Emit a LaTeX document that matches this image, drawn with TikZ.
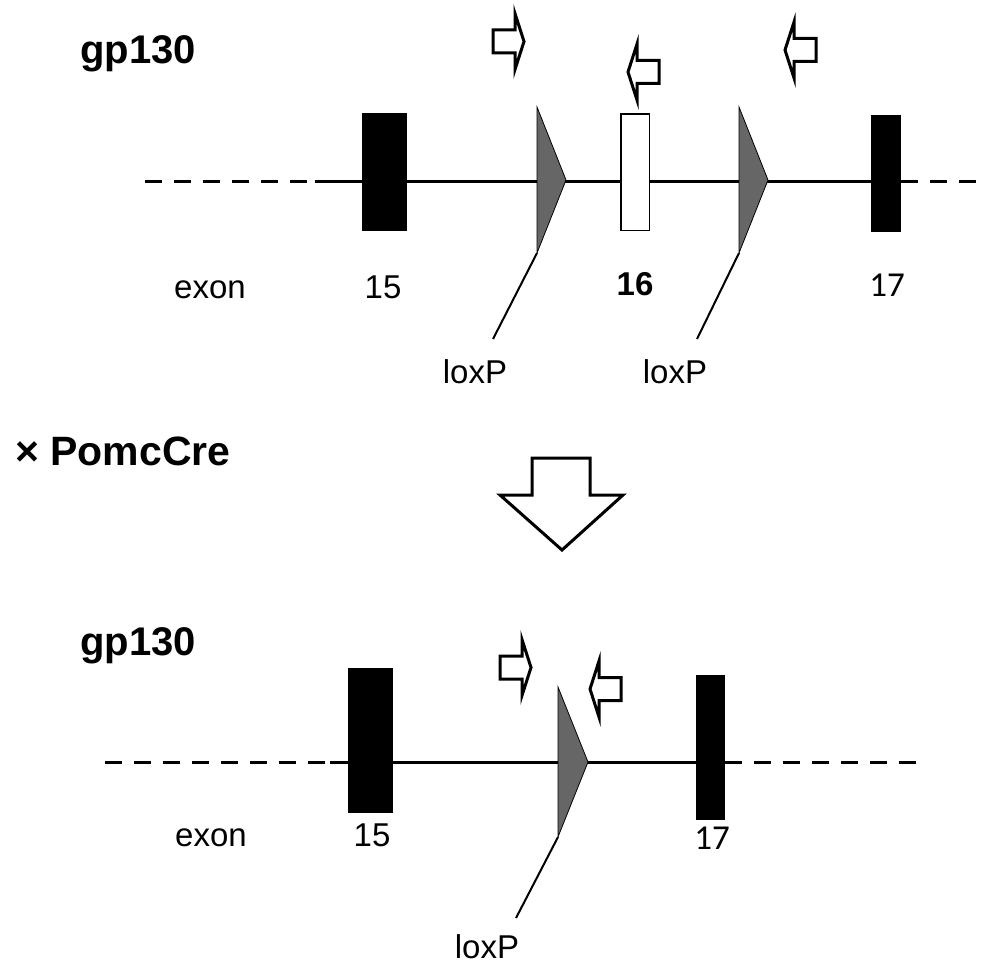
\documentclass[tikz,border=0pt]{standalone}
\usepackage{fontspec}
\setmainfont{Liberation Sans}
\newfontfamily\numfont{Carlito}
\begin{document}
\begin{tikzpicture}[x=1pt,y=-1pt,
  dna/.style={line width=3pt},
  flank/.style={line width=3pt, dash pattern=on 17pt off 12pt},
  exonbox/.style={rectangle, fill=black, inner sep=0pt, outer sep=0pt},
  openexon/.style={rectangle, fill=white, draw=black, line width=1.5pt, inner sep=0pt, outer sep=0pt},
  loxp/.style={fill=black!60, draw=black, line width=0.8pt, line join=miter},
  leader/.style={line width=2pt},
  lbl/.style={inner sep=0pt, anchor=base, font=\fontsize{33}{38}\selectfont},
  numlbl/.style={lbl, font=\numfont\fontsize{35}{40}\selectfont},
  title/.style={inner sep=0pt, anchor=base west, font=\bfseries\fontsize{40}{46}\selectfont},
  primer/.pic={
    \draw[line width=3pt, fill=white, line join=miter, miter limit=20]
      (-22,-11.5) -- (0,-11.5) -- (0,-28) -- (9,0) -- (0,28) -- (0,11.5) -- (-22,11.5) -- cycle;
  }
]
\useasboundingbox (0,0) rectangle (981,971);

% ---------------- floxed allele ----------------
\node[title] (gpA) at (80,64) {gp130};

\coordinate (a0) at (145,181);
\coordinate (a1) at (315,181);
\coordinate (a2) at (886,181);
\coordinate (a3) at (901,181);
\coordinate (a4) at (981,181);
\draw[flank] (a0) -- (a1);
\draw[dna] (a1) -- (a2);
\draw[flank] (a3) -- (a4);

\node[exonbox, minimum width=45pt, minimum height=118pt] (e15a) at (384.5,172) {};
\node[openexon, minimum width=28.5pt, minimum height=116.5pt] (e16a) at (635,172) {};
\node[exonbox, minimum width=30pt, minimum height=117pt] (e17a) at (886,173.5) {};

% loxP sites
\coordinate (l1t) at (537,107);
\coordinate (l1p) at (566,180);
\coordinate (l1b) at (537,253);
\coordinate (l2t) at (739,107);
\coordinate (l2p) at (768,180);
\coordinate (l2b) at (739,253);
\draw[loxp] (l1t) -- (l1p) -- (l1b) -- cycle;
\draw[loxp] (l2t) -- (l2p) -- (l2b) -- cycle;

\coordinate (l1e) at (493,339);
\coordinate (l2e) at (697,339);
\draw[leader] (l1b) -- (l1e);
\draw[leader] (l2b) -- (l2e);

% primers
\pic at (515,41.5) {primer};
\pic[xscale=-1] at (637,72) {primer};
\pic[xscale=-1] at (794,50) {primer};

% labels
\node[lbl] (exA) at (210,298) {exon};
\node[lbl] (n15a) at (383,298) {15};
\node[lbl, font=\bfseries\fontsize{33}{38}\selectfont] (n16a) at (635,295) {16};
\node[numlbl] (n17a) at (887,296) {17};
\node[lbl] (lxA) at (475,383) {loxP};
\node[lbl] (lxB) at (675,383) {loxP};

% ---------------- Cre cross ----------------
\node[inner sep=0pt, anchor=base west, font=\bfseries\fontsize{41}{46}\selectfont] (cre) at (15,465) {× PomcCre};

\draw[line width=3pt, fill=white, line join=miter]
  (532,458) -- (590,458) -- (590,495) -- (623,495) -- (562,550) -- (500,495) -- (532,495) -- cycle;

% ---------------- deleted allele ----------------
\node[title] (gpB) at (80,655) {gp130};

\coordinate (b0) at (105,762);
\coordinate (b1) at (330,762);
\coordinate (b2) at (710,762);
\coordinate (b3) at (725,762);
\coordinate (b4) at (920,762);
\draw[flank] (b0) -- (b1);
\draw[dna] (b1) -- (b2);
\draw[flank] (b3) -- (b4);

\node[exonbox, minimum width=45pt, minimum height=145pt] (e15b) at (370.5,740.5) {};
\node[exonbox, minimum width=29pt, minimum height=145pt] (e17b) at (710.5,747.5) {};

\coordinate (l3t) at (558,687);
\coordinate (l3p) at (588,762);
\coordinate (l3b) at (558,837);
\draw[loxp] (l3t) -- (l3p) -- (l3b) -- cycle;
\coordinate (l3e) at (516,918);
\draw[leader] (l3b) -- (l3e);

\pic at (522,667.5) {primer};
\pic[xscale=-1] at (599,689) {primer};

\node[lbl] (exB) at (211,846) {exon};
\node[lbl] (n15b) at (372,846) {15};
\node[numlbl] (n17b) at (712,849) {17};
\node[lbl] (lxC) at (487,958) {loxP};
\end{tikzpicture}
\end{document}
